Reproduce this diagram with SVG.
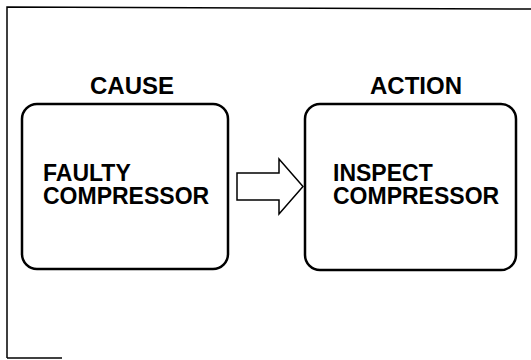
<svg xmlns="http://www.w3.org/2000/svg" width="531" height="360" viewBox="0 0 531 360">
<style>
.frame{fill:none;stroke:#000;stroke-width:1.5}
.box{fill:#fff;stroke:#000;stroke-width:2.5}
.arrow{fill:#fff;stroke:#000;stroke-width:1.5;stroke-linejoin:miter}
.title{font-family:"Liberation Sans",Arial,sans-serif;font-weight:bold;font-size:24px;fill:#000}
.label{font-family:"Liberation Sans",Arial,sans-serif;font-weight:bold;font-size:23px;fill:#000}
</style>
<rect width="531" height="360" fill="#fff"/>
<g id="frame">
<path class="frame" d="M7,358 L7,7 L531,9"/>
<path class="frame" d="M7,358 L62,358"/>
</g>
<g id="cause">
<text class="title" x="132" y="94" text-anchor="middle">CAUSE</text>
<rect class="box" x="22" y="104" width="206" height="165" rx="15" ry="15"/>
<text class="label" x="43" y="181">FAULTY</text>
<text class="label" x="43" y="204">COMPRESSOR</text>
</g>
<g id="action">
<text class="title" x="416" y="94" text-anchor="middle">ACTION</text>
<rect class="box" x="305" y="104" width="211" height="166" rx="15" ry="15"/>
<text class="label" x="333" y="181">INSPECT</text>
<text class="label" x="333" y="204">COMPRESSOR</text>
</g>
<g id="connectors">
<path class="arrow" d="M237,173 L279,173 L279,159 L303,186.5 L279,214 L279,200 L237,200 Z"/>
</g>
</svg>
